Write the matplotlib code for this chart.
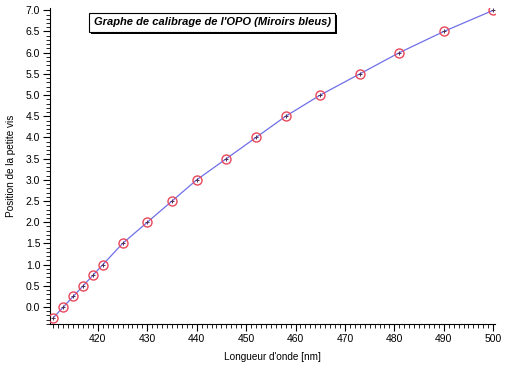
import numpy as np
import matplotlib
matplotlib.use("Agg")
from matplotlib import pyplot as plt
from matplotlib.ticker import MultipleLocator
import matplotlib.patheffects as pe

plt.rcParams['font.family'] = ['Liberation Sans', 'DejaVu Sans']

# calibration points
wavelength = [411, 413, 415, 417, 419, 421, 425, 430, 435, 440,
              446, 452, 458, 465, 473, 481, 490, 500]
position = [-0.25, 0.0, 0.25, 0.5, 0.75, 1.0, 1.5, 2.0, 2.5, 3.0,
            3.5, 4.0, 4.5, 5.0, 5.5, 6.0, 6.5, 7.0]

title = "Graphe de calibrage de l'OPO (Miroirs bleus)"
xlabel = "Longueur d'onde [nm]"
ylabel = "Position de la petite vis"

fig = plt.figure(figsize=(5.07, 3.72), dpi=100)
ax = fig.add_axes([0.0986, 0.128, 0.878, 0.85])

# fit line and markers
ax.plot(wavelength, position, '-', color='#6f6fe8', lw=0.9, zorder=2)
ax.plot(wavelength, position, 'o', ms=6.5, mfc='none', mec='#e8475a', mew=1.0, zorder=3)
ax.plot(wavelength, position, '+', ms=3, color='#503050', mew=0.7, zorder=4)

ax.set_xlim(410.3, 500.4)
ax.set_ylim(-0.41, 7.05)

ax.xaxis.set_major_locator(MultipleLocator(10))
ax.xaxis.set_minor_locator(MultipleLocator(1))
ax.yaxis.set_major_locator(MultipleLocator(0.5))
ax.yaxis.set_minor_locator(MultipleLocator(0.1))
ax.yaxis.set_major_formatter(matplotlib.ticker.FormatStrFormatter('%.1f'))

for s in ['top', 'right']:
    ax.spines[s].set_visible(False)
for s in ['left', 'bottom']:
    ax.spines[s].set_linewidth(0.8)

ax.tick_params(which='major', direction='out', length=5, width=0.8, labelsize=7.5, pad=2)
ax.tick_params(which='minor', direction='out', length=3, width=0.6)

ax.set_xlabel(xlabel, fontsize=7.2, labelpad=6)
ax.set_ylabel(ylabel, fontsize=7.2, labelpad=7)

t = ax.text(0.098, 0.955, title, transform=ax.transAxes, fontsize=8.0,
            fontweight='bold', fontstyle='italic', va='center', ha='left',
            bbox=dict(boxstyle='square,pad=0.4', fc='white', ec='black', lw=0.8))
t.get_bbox_patch().set_path_effects([
    pe.SimplePatchShadow(offset=(1.2, -1.2), shadow_rgbFace='black', alpha=1.0),
    pe.Normal()])

fig.savefig('out.png', dpi=100)
